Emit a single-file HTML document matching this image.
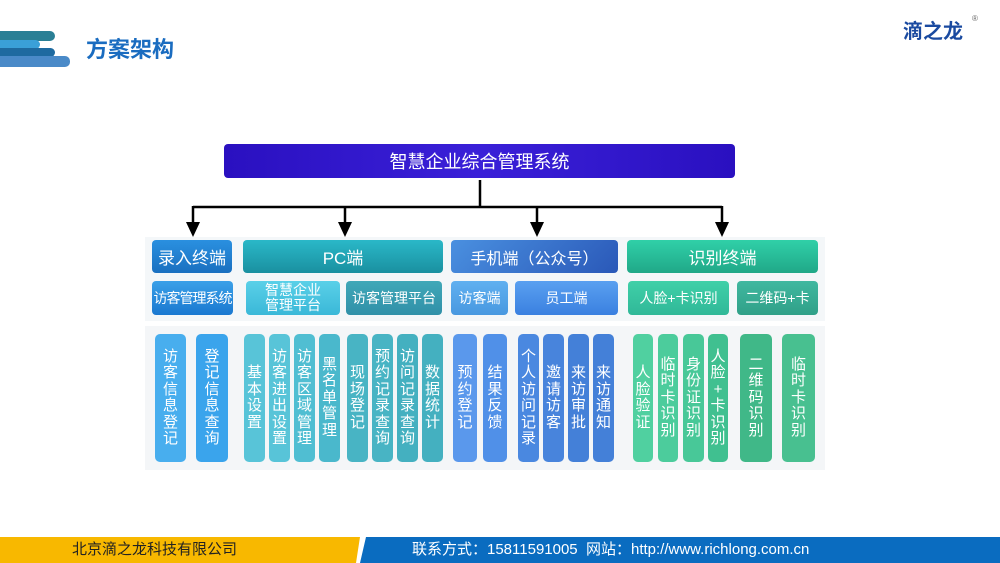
<!DOCTYPE html>
<html><head><meta charset="utf-8"><style>
*{margin:0;padding:0;box-sizing:border-box}
body{width:1000px;height:563px;position:relative;background:#fff;overflow:hidden;font-family:"Liberation Sans","Noto Sans CJK SC",sans-serif}
.a{position:absolute}
.b{position:absolute;border-radius:4px;color:#fff;display:flex;align-items:center;justify-content:center;text-align:center;white-space:nowrap}
.c{position:absolute;top:334px;height:128px;border-radius:5px;color:#fff;font-size:15px;line-height:16.5px;display:flex;align-items:center;justify-content:center;text-align:center;word-break:break-all;padding:0}
.c span{display:block;width:15.5px}
</style></head><body>
<div class="a" style="left:0;top:31px;width:55px;height:10px;background:#2a7f95;border-radius:0 5px 5px 0"></div>
<div class="a" style="left:0;top:40px;width:40px;height:9px;background:#3aa0d8;border-radius:0 5px 5px 0"></div>
<div class="a" style="left:0;top:48px;width:55px;height:9px;background:#1e6aa0;border-radius:0 5px 5px 0"></div>
<div class="a" style="left:0;top:56px;width:70px;height:11px;background:#4a8ac8;border-radius:0 5px 5px 0"></div>
<div class="a" style="left:86px;top:36px;font-size:22px;font-weight:bold;color:#1a6cc0;line-height:28px">方案架构</div>
<div class="a" style="left:903px;top:19px;font-size:20px;font-weight:bold;color:#1a4aa0;line-height:26px">滴之龙</div>
<div class="a" style="left:972px;top:14px;font-size:8px;color:#666">®</div>

<div class="b" style="left:224px;top:144px;width:511px;height:34px;background:linear-gradient(90deg,#2a10c0,#3a20d8,#2a10c0);font-size:18px">智慧企业综合管理系统</div>
<svg class="a" style="left:0;top:0" width="1000" height="563">
<g stroke="#000" stroke-width="2.5" fill="none">
<line x1="480" y1="180" x2="480" y2="207"/>
<line x1="193" y1="207" x2="722" y2="207"/>
<line x1="193" y1="206" x2="193" y2="224"/>
<line x1="345" y1="206" x2="345" y2="224"/>
<line x1="537" y1="206" x2="537" y2="224"/>
<line x1="722" y1="206" x2="722" y2="224"/>
</g>
<g fill="#000">
<polygon points="186,222 200,222 193,237"/>
<polygon points="338,222 352,222 345,237"/>
<polygon points="530,222 544,222 537,237"/>
<polygon points="715,222 729,222 722,237"/>
</g>
</svg>
<div class="a" style="left:145px;top:237px;width:680px;height:84px;background:#f4f7f9"></div>
<div class="a" style="left:145px;top:326px;width:680px;height:144px;background:#f4f6f8"></div>

<div class="b" style="left:152px;top:240px;width:80px;height:33px;background:linear-gradient(180deg,#2a90e0,#1a70c0);font-size:17px">录入终端</div>
<div class="b" style="left:243px;top:240px;width:200px;height:33px;background:linear-gradient(180deg,#2ab8c8,#1a90a0);font-size:17px">PC端</div>
<div class="b" style="left:451px;top:240px;width:167px;height:33px;background:linear-gradient(135deg,#4a90e0,#2a58b8);font-size:16px">手机端（公众号）</div>
<div class="b" style="left:627px;top:240px;width:191px;height:33px;background:linear-gradient(180deg,#30d0a8,#20a888);font-size:17px">识别终端</div>

<div class="b" style="left:152px;top:281px;width:81px;height:34px;background:linear-gradient(180deg,#3aa0e8,#1a78d0);font-size:14px;letter-spacing:-1px">访客管理系统</div>
<div class="b" style="left:246px;top:281px;width:94px;height:34px;background:linear-gradient(180deg,#5ad0e8,#3ab8d8);font-size:14px;line-height:15px;white-space:normal">智慧企业<br>管理平台</div>
<div class="b" style="left:346px;top:281px;width:96px;height:34px;background:linear-gradient(180deg,#40a8b8,#3090a8);font-size:14px">访客管理平台</div>
<div class="b" style="left:451px;top:281px;width:57px;height:34px;background:linear-gradient(180deg,#60b0f0,#4898e0);font-size:14px">访客端</div>
<div class="b" style="left:515px;top:281px;width:103px;height:34px;background:linear-gradient(180deg,#5aa0f0,#3a80e0);font-size:14px">员工端</div>
<div class="b" style="left:628px;top:281px;width:101px;height:34px;background:linear-gradient(180deg,#40d0a8,#30b898);font-size:14px">人脸+卡识别</div>
<div class="b" style="left:737px;top:281px;width:81px;height:34px;background:linear-gradient(180deg,#40b8a0,#30a088);font-size:14px">二维码+卡</div>

<div class="c" style="left:155px;width:31px;background:#48aeee"><span>访客信息登记</span></div>
<div class="c" style="left:196px;width:32px;background:#3aa4ec"><span>登记信息查询</span></div>
<div class="c" style="left:244px;width:21px;background:#58c4d8"><span>基本设置</span></div>
<div class="c" style="left:269px;width:21px;background:#58c4d8"><span>访客进出设置</span></div>
<div class="c" style="left:294px;width:21px;background:#50bed2"><span>访客区域管理</span></div>
<div class="c" style="left:319px;width:21px;background:#4ab8cc"><span>黑名单管理</span></div>
<div class="c" style="left:347px;width:21px;background:#48b4c4"><span>现场登记</span></div>
<div class="c" style="left:372px;width:21px;background:#48b4c4"><span>预约记录查询</span></div>
<div class="c" style="left:397px;width:21px;background:#44b0c0"><span>访问记录查询</span></div>
<div class="c" style="left:422px;width:21px;background:#44b0c0"><span>数据统计</span></div>
<div class="c" style="left:453px;width:24px;background:#5a98ec"><span>预约登记</span></div>
<div class="c" style="left:483px;width:24px;background:#5090e8"><span>结果反馈</span></div>
<div class="c" style="left:518px;width:21px;background:#4a88e0"><span>个人访问记录</span></div>
<div class="c" style="left:543px;width:21px;background:#4884dc"><span>邀请访客</span></div>
<div class="c" style="left:568px;width:21px;background:#4480d8"><span>来访审批</span></div>
<div class="c" style="left:593px;width:21px;background:#4480d8"><span>来访通知</span></div>
<div class="c" style="left:633px;width:20px;background:#50d0a0"><span>人脸验证</span></div>
<div class="c" style="left:658px;width:20px;background:#4ccc9c"><span>临时卡识别</span></div>
<div class="c" style="left:683px;width:21px;background:#48c898"><span>身份证识别</span></div>
<div class="c" style="left:708px;width:20px;background:#40c090"><span>人<br>脸<br>+<br>卡<br>识<br>别</span></div>
<div class="c" style="left:740px;width:32px;background:#40b888"><span>二维码识别</span></div>
<div class="c" style="left:782px;width:33px;background:#48c090"><span>临时卡识别</span></div>

<div class="a" style="left:0;top:537px;width:360px;height:26px;background:#f8b800;clip-path:polygon(0 0,100% 0,calc(100% - 4px) 100%,0 100%)"></div>
<div class="a" style="left:360px;top:537px;width:640px;height:26px;background:#0a6cc0;clip-path:polygon(6px 0,100% 0,100% 100%,0 100%)"></div>
<div class="a" style="left:72px;top:540px;font-size:15px;line-height:20px;color:#222">北京滴之龙科技有限公司</div>
<div class="a" style="left:412px;top:540px;font-size:15px;line-height:20px;color:#fff">联系方式：15811591005&nbsp; 网站：http://www.richlong.com.cn</div>
</body></html>
